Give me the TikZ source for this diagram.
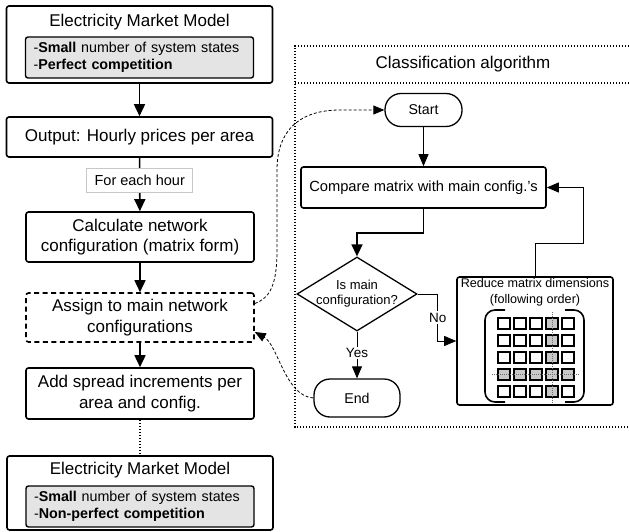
\documentclass[tikz,border=0pt]{standalone}
\usepackage{fontspec}
\setmainfont{Liberation Sans}
\usepackage{tikz}
\usetikzlibrary{positioning, arrows.meta, shapes.geometric, calc}
\definecolor{ink}{RGB}{0,0,0}
\definecolor{muted}{RGB}{110,110,110}
\definecolor{rline}{RGB}{200,200,200}
\definecolor{panel}{RGB}{228,228,228}
\definecolor{cellgray}{RGB}{200,200,200}
\tikzset{
  block/.style    ={rectangle, rounded corners=2.5pt, draw=ink, line width=1.6pt, fill=white,
                    inner sep=2pt, align=center, font=\fontsize{17}{20.5}\selectfont},
  modelbox/.style ={block, minimum width=266pt},
  stepbox/.style  ={block, minimum width=228pt},
  panelbox/.style ={rectangle, rounded corners=2.5pt, draw=ink, line width=1.4pt, fill=panel,
                    text width=212pt, inner xsep=8pt, inner ysep=2pt, minimum height=41pt,
                    align=left, font=\fontsize{14.3}{17}\selectfont},
  hourlabel/.style={rectangle, draw=rline, line width=0.8pt, fill=white, minimum width=106pt,
                    minimum height=24pt, inner sep=1pt, font=\fontsize{14.5}{17}\selectfont},
  terminal/.style ={rectangle, rounded corners=16pt, draw=ink, line width=1.3pt, fill=white,
                    font=\fontsize{14.2}{17}\selectfont},
  decide/.style   ={diamond, draw=ink, line width=1.3pt, fill=white, inner sep=0pt,
                    minimum width=120pt, minimum height=74pt},
  cell/.style     ={rectangle, draw=ink, line width=1.6pt, minimum size=11.5pt, inner sep=0pt},
  arr/.style      ={-{Triangle[length=12pt, width=11pt]}, line width=1.6pt, color=ink},
  thinarr/.style  ={-{Triangle[length=12pt, width=10pt]}, line width=0.8pt, color=ink},
  dasharr/.style  ={-{Triangle[length=11pt, width=9pt]}, line width=0.8pt,
                    dash pattern=on 3pt off 2pt, color=ink},
  dotline/.style  ={line width=1.1pt, dash pattern=on 1.2pt off 1.8pt, color=ink},
  guide/.style    ={line width=0.8pt, dash pattern=on 1pt off 1pt, color=muted},
  msglabel/.style ={fill=white, inner sep=1.5pt, font=\fontsize{13.5}{16}\selectfont},
}

\begin{document}
\begin{tikzpicture}[x=1pt, y=-1pt]
\useasboundingbox (0,0) rectangle (629,532);

% market model chain
\node[modelbox, minimum height=77pt] (emm1) at (139.5,44.5) {};
\node[font=\fontsize{17}{20.5}\selectfont, inner sep=0pt] (emm1title) at (139.5,22.3) {Electricity Market Model};
\node[panelbox] (emm1panel) at (139.5,57.5) {-\textbf{Small} number of system states\\-\textbf{Perfect competition}};
\node[modelbox, minimum height=40pt] (output) at (139.5,137) {Output: Hourly prices per area};
\node[stepbox, minimum height=50pt] (calcnet) at (140,237) {Calculate network\\configuration (matrix form)};
\node[stepbox, minimum height=49pt, dash pattern=on 5pt off 3.5pt] (assign) at (140,317.5) {Assign to main network\\configurations};
\node[stepbox, minimum height=51pt] (spread) at (140,393.5) {Add spread increments per\\area and config.};
\node[modelbox, minimum height=74pt] (emm2) at (140,493) {};
\node[font=\fontsize{17}{20.5}\selectfont, inner sep=0pt] (emm2title) at (140,470.6) {Electricity Market Model};
\node[panelbox] (emm2panel) at (140,506.5) {-\textbf{Small} number of system states\\-\textbf{Non-perfect competition}};

\draw[arr] (emm1) -- (output);
\draw[arr] (output) -- node[hourlabel, pos=0.42] (hour) {For each hour} (calcnet);
\draw[arr] (calcnet) -- (assign);
\draw[arr] (assign) -- (spread);
\draw[dotline] (spread) -- (emm2);

% classification algorithm
\draw[dotline] (629,46) -- (295,46) -- (295,427) -- (629,427);
\draw[dotline] (295,83) -- (629,83);
\node[font=\fontsize{17}{20.5}\selectfont] (classtitle) at (463,64.5) {Classification algorithm};

\node[terminal, minimum width=77pt, minimum height=33pt] (start) at (423.5,110) {Start};
\node[block, minimum width=245pt, minimum height=41pt, font=\fontsize{14.7}{17}\selectfont] (compare) at (423.5,187.5) {Compare matrix with main config.'s};
\node[decide, label={[align=center, font=\fontsize{13}{15}\selectfont]center:{Is main\\configuration?}}] (decision) at (357,294) {};
\node[terminal, minimum width=86pt, minimum height=38pt] (endnode) at (357,398) {End};
\node[block, minimum width=156pt, minimum height=128pt] (reduce) at (535,341) {};
\node[font=\fontsize{12.6}{16}\selectfont, align=center, anchor=north, inner sep=0pt] (reducetitle) at ([yshift=-2pt]reduce.north) {Reduce matrix dimensions\\(following order)};

% matrix inside the reduce step
\foreach \r in {1,...,5}{
  \foreach \c in {1,...,5}{
    \ifnum\c=4 \def\cf{cellgray}\else\ifnum\r=4 \def\cf{cellgray}\else\def\cf{white}\fi\fi
    \node[cell, fill=\cf] (m\r\c) at (488+16*\c,306.5+17*\r) {};
  }
}
\draw[guide] ([yshift=5pt]m14.north) -- ([yshift=-5pt]m54.south);
\draw[guide] ([xshift=-5pt]m41.west) -- ([xshift=4pt]m45.east);
\draw[line width=1.6pt, rounded corners=10pt] (505,310) -- (485,310) -- (485,402) -- (505,402);
\draw[line width=1.6pt, rounded corners=10pt] (565,310) -- (584,310) -- (584,402) -- (565,402);

\draw[thinarr] (start) -- (compare);
\draw[arr] (compare.south) -- ++(0,24) -| (decision.north);
\draw[thinarr] (decision.east) -- ++(20,0) |- node[msglabel, pos=0.25] (nolabel) {No} (reduce.west);
\draw[thinarr] (decision.south) -- node[msglabel, pos=0.46] (yeslabel) {Yes} (endnode.north);
\draw[thinarr] (reduce.north) |- (583,243) |- (compare.east);

% hand-over between the two parts
\draw[dasharr] ([yshift=14pt]assign.east) .. controls (270,298) and (277,285) .. (277,250)
  -- (277,170) .. controls (277,130) and (300,110) .. (340,110) -- (start.west);
\draw[dasharr] (endnode.west) .. controls (285,396) and (278,345) .. ([yshift=-14.5pt]assign.east);
\end{tikzpicture}
\end{document}
